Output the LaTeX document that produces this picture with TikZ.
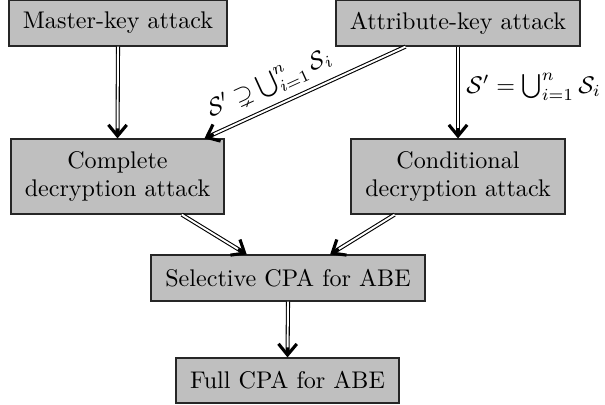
\documentclass[tikz,border=0pt]{standalone}
\usepackage{amsmath,amssymb}
\usetikzlibrary{arrows.meta,calc}
\newcommand{\pxu}{0.415pt}
\tikzset{
  box/.style={draw=black!85, line width=0.5pt, fill=gray!50, align=center,
    inner sep=0pt, font=\normalsize},
  dbl/.style={draw=black, double=white, line width=0.45pt, double distance=0.8pt},
  tipst/.style={draw=black, line width=1.3pt,
    -{Straight Barb[length=4.6pt,width=7.6pt]}},
}
\begin{document}
\begin{tikzpicture}[x=\pxu, y=-\pxu]
\useasboundingbox (0,0) rectangle (605,404);
\node[box, minimum width=218*\pxu, minimum height=46*\pxu] (master) at (118,23) {Master-key attack};
\node[box, minimum width=244*\pxu, minimum height=46*\pxu] (attr) at (458,23) {Attribute-key attack};
\node[box, minimum width=213*\pxu, minimum height=75*\pxu] (complete) at (117.5,176.5) {Complete\\decryption attack};
\node[box, minimum width=214*\pxu, minimum height=75*\pxu] (cond) at (458,176.5) {Conditional\\decryption attack};
\node[box, minimum width=274*\pxu, minimum height=46*\pxu] (sel) at (288,278) {Selective CPA for ABE};
\node[box, minimum width=223*\pxu, minimum height=45*\pxu] (full) at (287.5,380.5) {Full CPA for ABE};

% anchor points
\coordinate (m1) at (master.south);
\coordinate (m2) at (complete.north);
\coordinate (a1) at (attr.south);
\coordinate (a2) at (cond.north);
\coordinate (d1) at ($(attr.south west)!0.286!(attr.south east)$);
\coordinate (d2) at ($(complete.north west)!0.906!(complete.north east)$);
\coordinate (c1) at ($(complete.south west)!0.80!(complete.south east)$);
\coordinate (c2) at ($(sel.north west)!0.35!(sel.north east)$);
\coordinate (k1) at ($(cond.south west)!0.205!(cond.south east)$);
\coordinate (k2) at ($(sel.north west)!0.653!(sel.north east)$);
\coordinate (s1) at (sel.south);
\coordinate (s2) at (full.north);

\foreach \p/\q in {m1/m2, a1/a2, d1/d2, c1/c2, k1/k2, s1/s2}{
  \draw[dbl, shorten >=1.5pt] (\p) -- (\q);
  \draw[tipst] ($(\q)!4.2pt!(\p)$) -- (\q);
}
\path (a1) -- (a2) node[pos=0.44, right, inner sep=3.3pt] (lblr) {$\mathcal{S}' = \bigcup_{i=1}^n \mathcal{S}_i$};
\path (d2) -- (d1) node[pos=0.37, sloped, above, inner sep=3.5pt] (lbll) {$\mathcal{S}' \supsetneq \bigcup_{i=1}^n \mathcal{S}_i$};
\end{tikzpicture}
\end{document}
